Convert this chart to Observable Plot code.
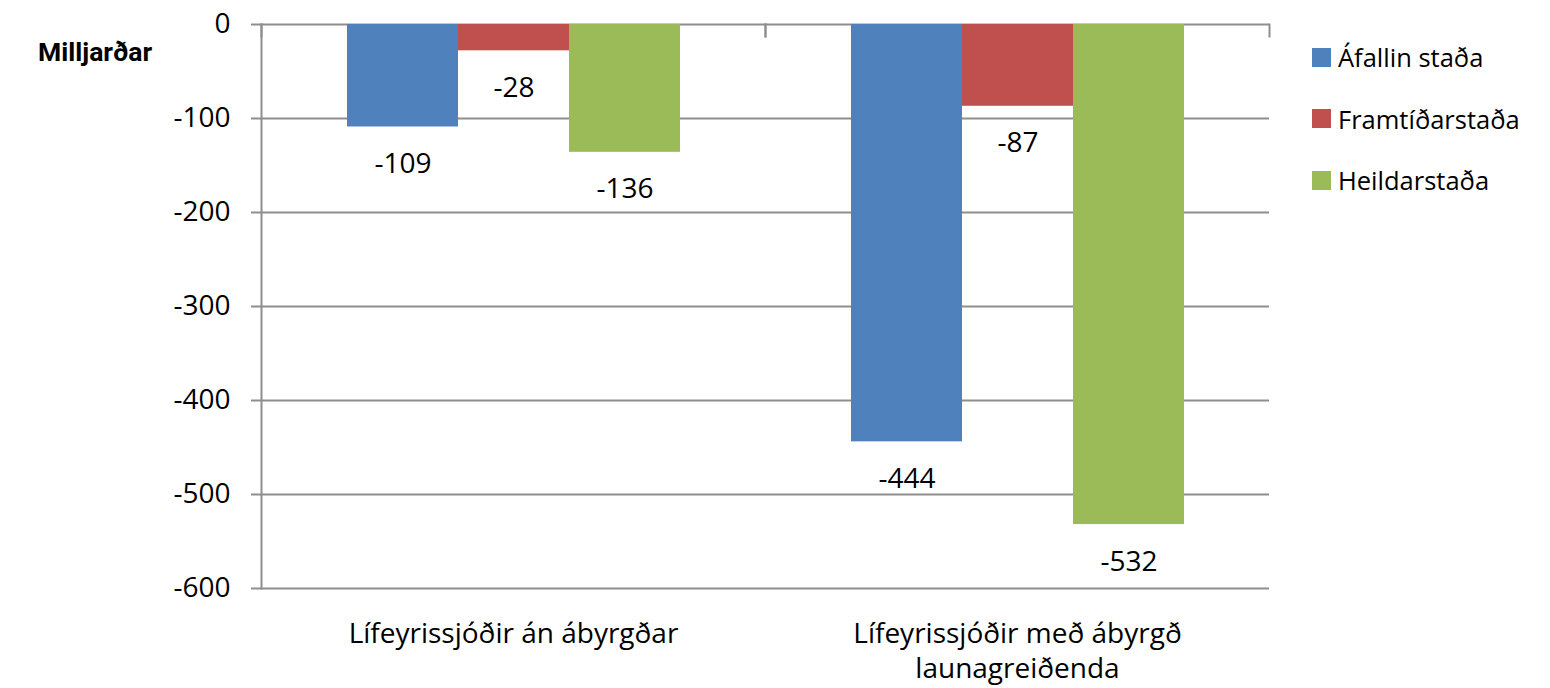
<!DOCTYPE html>
<html>
<head>
<meta charset="utf-8">
<script src="https://cdn.jsdelivr.net/npm/d3@7"></script>
<script src="https://cdn.jsdelivr.net/npm/@observablehq/plot@0.6"></script>
<style>
  html, body { margin: 0; padding: 0; background: #fff; }
  #wrap { position: relative; width: 1550px; height: 688px; font-family: "Open Sans", sans-serif; color: #000; }
  #chart svg { overflow: visible; }
  #ylabel { position: absolute; left: 38px; top: 34px; font-family: Roboto, "Open Sans", sans-serif; font-weight: bold; font-size: 26.5px; line-height: 36px; }
  #legend { position: absolute; left: 1312px; top: 38px; font-size: 25.5px; }
  .item { display: flex; align-items: center; height: 38px; margin-bottom: 23.5px; white-space: nowrap; }
  .sw { width: 19px; height: 19px; margin-right: 7px; flex: none; }
</style>
</head>
<body>
<div id="wrap">
  <div id="chart"></div>
  <div id="ylabel">Milljarðar</div>
  <div id="legend"></div>
</div>
<script>
const categories = ["Lífeyrissjóðir án ábyrgðar", "Lífeyrissjóðir með ábyrgð launagreiðenda"];
const categoryLabels = ["Lífeyrissjóðir án ábyrgðar", "Lífeyrissjóðir með ábyrgð\nlaunagreiðenda"];
const series = ["Áfallin staða", "Framtíðarstaða", "Heildarstaða"];
const afallinStada = [-109, -444];
const framtidarstada = [-28, -87];
const heildarstada = [-136, -532];
const colors = ["#4F81BD", "#C0504D", "#9BBB59"];
const yTicks = [0, -100, -200, -300, -400, -500, -600];

const valuesBySeries = [afallinStada, framtidarstada, heildarstada];
const data = [];
categories.forEach((c, i) => {
  series.forEach((s, j) => data.push({cat: c, series: s, value: valuesBySeries[j][i]}));
});

const grid = "#8e8e8e";
const labelOf = new Map(categories.map((c, i) => [c, categoryLabels[i]]));

const chart = Plot.plot({
  width: 1550,
  height: 688,
  marginLeft: 260,
  marginRight: 281,
  marginTop: 24,
  marginBottom: 100,
  style: {fontFamily: "'Open Sans', sans-serif", fontSize: "28px", color: "#000", background: "transparent", overflow: "visible"},
  fx: {domain: categories, padding: 0, label: null},
  x: {domain: series, paddingInner: 0, paddingOuter: 0.752, axis: null},
  y: {domain: [-600, 0], label: null},
  color: {domain: series, range: colors},
  marks: [
    Plot.ruleY(yTicks, {stroke: grid, strokeWidth: 2}),
    Plot.frame({anchor: "left", facetAnchor: "left", stroke: grid, strokeWidth: 2}),
    Plot.frame({anchor: "left", stroke: grid, strokeWidth: 2, insetBottom: 552}),
    Plot.frame({anchor: "right", stroke: grid, strokeWidth: 2, insetBottom: 552}),
    Plot.barY(data, {fx: "cat", x: "series", y: "value", fill: "series"}),
    Plot.text(data, {fx: "cat", x: "series", y: "value", text: d => String(d.value), dy: 37, fontSize: 28, fill: "#000"}),
    Plot.axisY({ticks: yTicks, tickSize: 10, tickPadding: 21, tickFormat: d => String(d), stroke: grid, strokeWidth: 2, fill: "#000", fontSize: 28, label: null}),
    Plot.axisFx({anchor: "bottom", tickSize: 0, tickPadding: 30, lineAnchor: "top", lineHeight: 1.25, tickFormat: d => labelOf.get(d), fontSize: 28, fill: "#000", label: null})
  ]
});
document.getElementById("chart").appendChild(chart);

const legend = document.getElementById("legend");
series.forEach((s, i) => {
  const item = document.createElement("div");
  item.className = "item";
  const sw = document.createElement("span");
  sw.className = "sw";
  sw.style.background = colors[i];
  const t = document.createElement("span");
  t.textContent = s;
  item.appendChild(sw);
  item.appendChild(t);
  legend.appendChild(item);
});
</script>
</body>
</html>
